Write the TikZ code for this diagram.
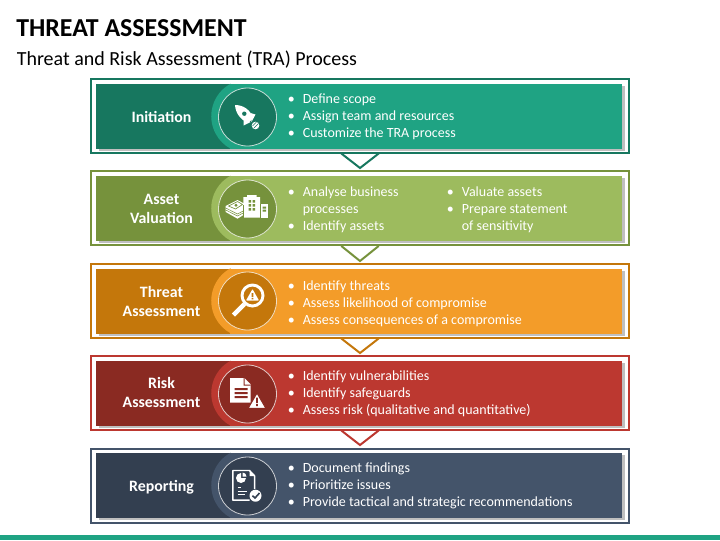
\documentclass[tikz,border=0pt]{standalone}
\usepackage{fontspec}
\setmainfont{Carlito}
\usetikzlibrary{shadows}

\definecolor{tealdark}{HTML}{17775F}
\definecolor{teallight}{HTML}{1FA383}
\definecolor{greendark}{HTML}{76923C}
\definecolor{greenlight}{HTML}{9DBB5E}
\definecolor{orangedark}{HTML}{C4770B}
\definecolor{orangelight}{HTML}{F39C29}
\definecolor{reddark}{HTML}{8A2A22}
\definecolor{redlight}{HTML}{BC3830}
\definecolor{navydark}{HTML}{333F50}
\definecolor{navylight}{HTML}{44546A}

\tikzset{
    framebox/.style={draw=#1, line width=1.5pt, fill=white, rectangle, inner sep=0pt, minimum width=404pt, minimum height=55.5pt},
    panelbox/.style={fill=#1, rectangle, inner sep=0pt, minimum width=394.5pt, minimum height=48.75pt,
        drop shadow={shadow xshift=2pt, shadow yshift=-1.5pt, fill=black, opacity=.25}},
    leftbox/.style={fill=#1, rectangle, inner sep=0pt, anchor=west, minimum width=100.7pt, minimum height=48.75pt},
    disc/.style={fill=#1, draw=white!75!#1, line width=.6pt, circle, inner sep=0pt, minimum size=43.5pt},
    stagelabel/.style={text=white, align=center, inner sep=0pt, font=\fontsize{11.9}{14.25}\selectfont\bfseries},
    itemlist/.style={text=white, anchor=west, inner sep=0pt, font=\fontsize{10.5}{12.75}\selectfont},
    chevron/.style={draw=#1, line width=1.5pt, line join=miter},
    haloarc/.style={fill=#1}
}

\begin{document}
\begin{tikzpicture}[x=.75pt, y=-.75pt]
    \useasboundingbox (0,0) rectangle (720,540);

    % Title lines
    \node[anchor=west, inner sep=0pt, font=\fontsize{19.4}{22}\selectfont\bfseries] (title) at (16,28.5) {THREAT ASSESSMENT};
    \node[anchor=west, inner sep=0pt, font=\fontsize{15}{18}\selectfont] (subtitle) at (16.5,59.5) {Threat and Risk Assessment (TRA) Process};

    % Bar along the bottom
    \node[fill=teallight, rectangle, inner sep=0pt, minimum width=540pt, minimum height=3.75pt, anchor=south] (bar) at (360,540) {};

    % Frames
    \node[framebox=tealdark] (frame1) at (360,115.5) {};
    \node[framebox=greendark] (frame2) at (360,208) {};
    \node[framebox=orangedark] (frame3) at (360,300.5) {};
    \node[framebox=redlight] (frame4) at (360,392.5) {};
    \node[framebox=navylight] (frame5) at (360,485.5) {};

    % Chevrons between the frames
    \coordinate (tip1) at (360,168);
    \coordinate (tip2) at (360,261);
    \coordinate (tip3) at (360,353);
    \coordinate (tip4) at (360,445);
    \draw[chevron=tealdark] ([xshift=-14pt]frame1.south) -- (tip1) -- ([xshift=14pt]frame1.south);
    \draw[chevron=greendark] ([xshift=-14pt]frame2.south) -- (tip2) -- ([xshift=14pt]frame2.south);
    \draw[chevron=orangedark] ([xshift=-14pt]frame3.south) -- (tip3) -- ([xshift=14pt]frame3.south);
    \draw[chevron=redlight] ([xshift=-14pt]frame4.south) -- (tip4) -- ([xshift=14pt]frame4.south);

    % Initiation
    \node[panelbox=teallight] (panel1) at (359,116.5) {};
    \node[leftbox=tealdark] (left1) at (panel1.west) {};
    \fill[haloarc=teallight] (left1.north east) arc[start angle=241.4, end angle=118.6, radius=37] -- cycle;
    \node[disc=tealdark] (disc1) at (247.5,117) {};
    \node[stagelabel] (label1) at (161.5,116.5) {Initiation};
    \node[itemlist] (list1) at (287.5,117) {
        \begin{tabular}{@{}p{11.3pt}@{}l@{}}
            \textbullet & Define scope \\
            \textbullet & Assign team and resources \\
            \textbullet & Customize the TRA process
        \end{tabular}
    };
    % Rocket
    \begin{scope}[shift={(247.5,117)}]
        \fill[white] (-12.5,-12) .. controls (-4,-12) and (3,-7) .. (5.5,1) -- (1,6) .. controls (-7,3) and (-12,-4) .. cycle;
        \fill[white] (3,-4) -- (8,-2.5) -- (4,5) -- cycle;
        \fill[white] (-4,3) -- (-4,8.5) -- (3,5) -- cycle;
        \fill[tealdark] (-3.2,-3.3) circle (2.2);
        \fill[white] (8,8.5) circle (3.8);
        \draw[tealdark, line width=.5pt] (5,9) -- (9,5) (6.5,11) -- (11,6.5);
    \end{scope}

    % Asset Valuation
    \node[panelbox=greenlight] (panel2) at (359,208.5) {};
    \node[leftbox=greendark] (left2) at (panel2.west) {};
    \fill[haloarc=greenlight] (left2.north east) arc[start angle=241.4, end angle=118.6, radius=37] -- cycle;
    \node[disc=greendark] (disc2) at (247.5,209) {};
    \node[stagelabel] (label2) at (161.5,208.5) {Asset \\ Valuation};
    \node[itemlist] (list2a) at (287.5,210.5) {
        \begin{tabular}{@{}p{11.3pt}@{}l@{}}
            \textbullet & Analyse business \\
             & processes \\
            \textbullet & Identify assets
        \end{tabular}
    };
    \node[itemlist] (list2b) at (446.5,210.5) {
        \begin{tabular}{@{}p{11.3pt}@{}l@{}}
            \textbullet & Valuate assets \\
            \textbullet & Prepare statement \\
             & of sensitivity
        \end{tabular}
    };
    % Money and building
    \begin{scope}[shift={(247.5,209)}]
        \fill[white] (-21.8,-3) -- (-10,-9) -- (-2.5,-5) -- (-2.5,5) -- (-10,9.7) -- (-21.8,3) -- cycle;
        \draw[greendark, line width=.4pt] (-21.8,-1) -- (-10,5) -- (-2.5,1) (-21.8,1) -- (-10,7) -- (-2.5,3);
        \draw[greendark, line width=.5pt] (-19,-3) -- (-10,-7.5) -- (-5,-4.5) -- (-12,0) -- cycle;
        \fill[greendark] (-11.5,-3.8) circle (1.7);
        \fill[white] (-4.2,-12) -- (-0.5,-12) -- (-0.5,-14) -- (9,-14) -- (9,-12) -- (12.5,-12) -- (12.5,8.7) -- (-4.2,8.7) -- cycle;
        \draw[greendark, line width=.5pt] (-4.6,-4) -- (-4.6,8.7);
        \fill[white] (12.5,-5) rectangle (20.8,8.7);
        \draw[greendark, line width=.5pt] (12.9,-5) -- (12.9,8.7);
        \fill[greendark] (1,-9) rectangle (3.5,-6.5) (5,-9) rectangle (7.5,-6.5) (1,-5) rectangle (3.5,-2.5) (5,-5) rectangle (7.5,-2.5) (1,-1) rectangle (3.5,1.5) (5,-1) rectangle (7.5,1.5);
        \fill[greendark] (15,-2.5) rectangle (18.5,-0.5) (15,0.5) rectangle (18.5,2.5);
    \end{scope}

    % Threat Assessment
    \node[panelbox=orangelight] (panel3) at (359,301) {};
    \node[leftbox=orangedark] (left3) at (panel3.west) {};
    \fill[haloarc=orangelight] (left3.north east) arc[start angle=241.4, end angle=118.6, radius=37] -- cycle;
    \node[disc=orangedark] (disc3) at (247.5,301) {};
    \node[stagelabel] (label3) at (161.5,301) {Threat \\ Assessment};
    \node[itemlist] (list3) at (287.5,304.5) {
        \begin{tabular}{@{}p{11.3pt}@{}l@{}}
            \textbullet & Identify threats \\
            \textbullet & Assess likelihood of compromise \\
            \textbullet & Assess consequences of a compromise
        \end{tabular}
    };
    % Magnifier with warning sign
    \begin{scope}[shift={(247.5,301)}]
        \draw[white, line width=2.2pt] (5,-5.5) circle (10.5);
        \draw[white, line width=3.4pt] (-14,14) -- (-3,3);
        \fill[white, rounded corners=.5pt] (5,-12) -- (11.5,-0.5) -- (-1.5,-0.5) -- cycle;
        \fill[orangedark] (4.2,-8) rectangle (5.8,-3.8) (4.2,-3) rectangle (5.8,-1.6);
    \end{scope}

    % Risk Assessment
    \node[panelbox=redlight] (panel4) at (359,393.5) {};
    \node[leftbox=reddark] (left4) at (panel4.west) {};
    \fill[haloarc=redlight] (left4.north east) arc[start angle=241.4, end angle=118.6, radius=37] -- cycle;
    \node[disc=reddark] (disc4) at (247.5,394) {};
    \node[stagelabel] (label4) at (161.5,392) {Risk \\ Assessment};
    \node[itemlist] (list4) at (287.5,394.5) {
        \begin{tabular}{@{}p{11.3pt}@{}l@{}}
            \textbullet & Identify vulnerabilities \\
            \textbullet & Identify safeguards \\
            \textbullet & Assess risk (qualitative and quantitative)
        \end{tabular}
    };
    % Document with warning sign
    \begin{scope}[shift={(247.5,394)}]
        \fill[white] (-17.5,-16) -- (-3,-16) -- (3,-10) -- (3,8.7) -- (-17.5,8.7) -- cycle;
        \fill[reddark] (-3,-16) -- (-3,-9.5) -- (3,-9.5) -- (3,-8.5) -- (-4,-8.5) -- (-4,-16) -- cycle;
        \fill[reddark] (-13,-6) rectangle (0,-4) (-13,-2) rectangle (0,0) (-13,2) rectangle (0,4);
        \fill[white, draw=reddark, line width=.8pt] (9.5,-1) -- (18.5,14.5) -- (0.5,14.5) -- cycle;
        \fill[reddark] (8.6,3.5) rectangle (10.4,9) (8.6,10) rectangle (10.4,12);
    \end{scope}

    % Reporting
    \node[panelbox=navylight] (panel5) at (359,485.5) {};
    \node[leftbox=navydark] (left5) at (panel5.west) {};
    \fill[haloarc=navylight] (left5.north east) arc[start angle=241.4, end angle=118.6, radius=37] -- cycle;
    \node[disc=navydark] (disc5) at (247.5,486) {};
    \node[stagelabel] (label5) at (161.5,487) {Reporting};
    \node[itemlist] (list5) at (287.5,486.5) {
        \begin{tabular}{@{}p{11.3pt}@{}l@{}}
            \textbullet & Document findings \\
            \textbullet & Prioritize issues \\
            \textbullet & Provide tactical and strategic recommendations
        \end{tabular}
    };
    % Report with pie and check mark
    \begin{scope}[shift={(247.5,486)}]
        \draw[white, line width=1.1pt, line join=round] (2,14.2) -- (-14.7,14.2) -- (-14.7,-15.5) -- (2,-15.5) -- (7.2,-10) -- (7.2,3);
        \fill[white] (2,-15.5) -- (7.2,-10) -- (2,-10) -- cycle;
        \fill[white] (-6.5,-8) -- (-6.5,-13) arc[start angle=-90, delta angle=-270, radius=5] -- cycle;
        \fill[white] (-5,-9.5) -- (-5,-13.5) arc[start angle=-90, delta angle=90, radius=4] -- cycle;
        \draw[white, line width=.8pt] (-9.8,1.3) -- (-6.5,1.3) (-9.8,5.3) -- (-0.8,5.3) (-9.8,8.7) -- (-2.5,8.7);
        \fill[white] (8,9.7) circle (6);
        \draw[navydark, line width=1.2pt] (5,9.7) -- (7.5,12) -- (12,7);
    \end{scope}
\end{tikzpicture}
\end{document}
